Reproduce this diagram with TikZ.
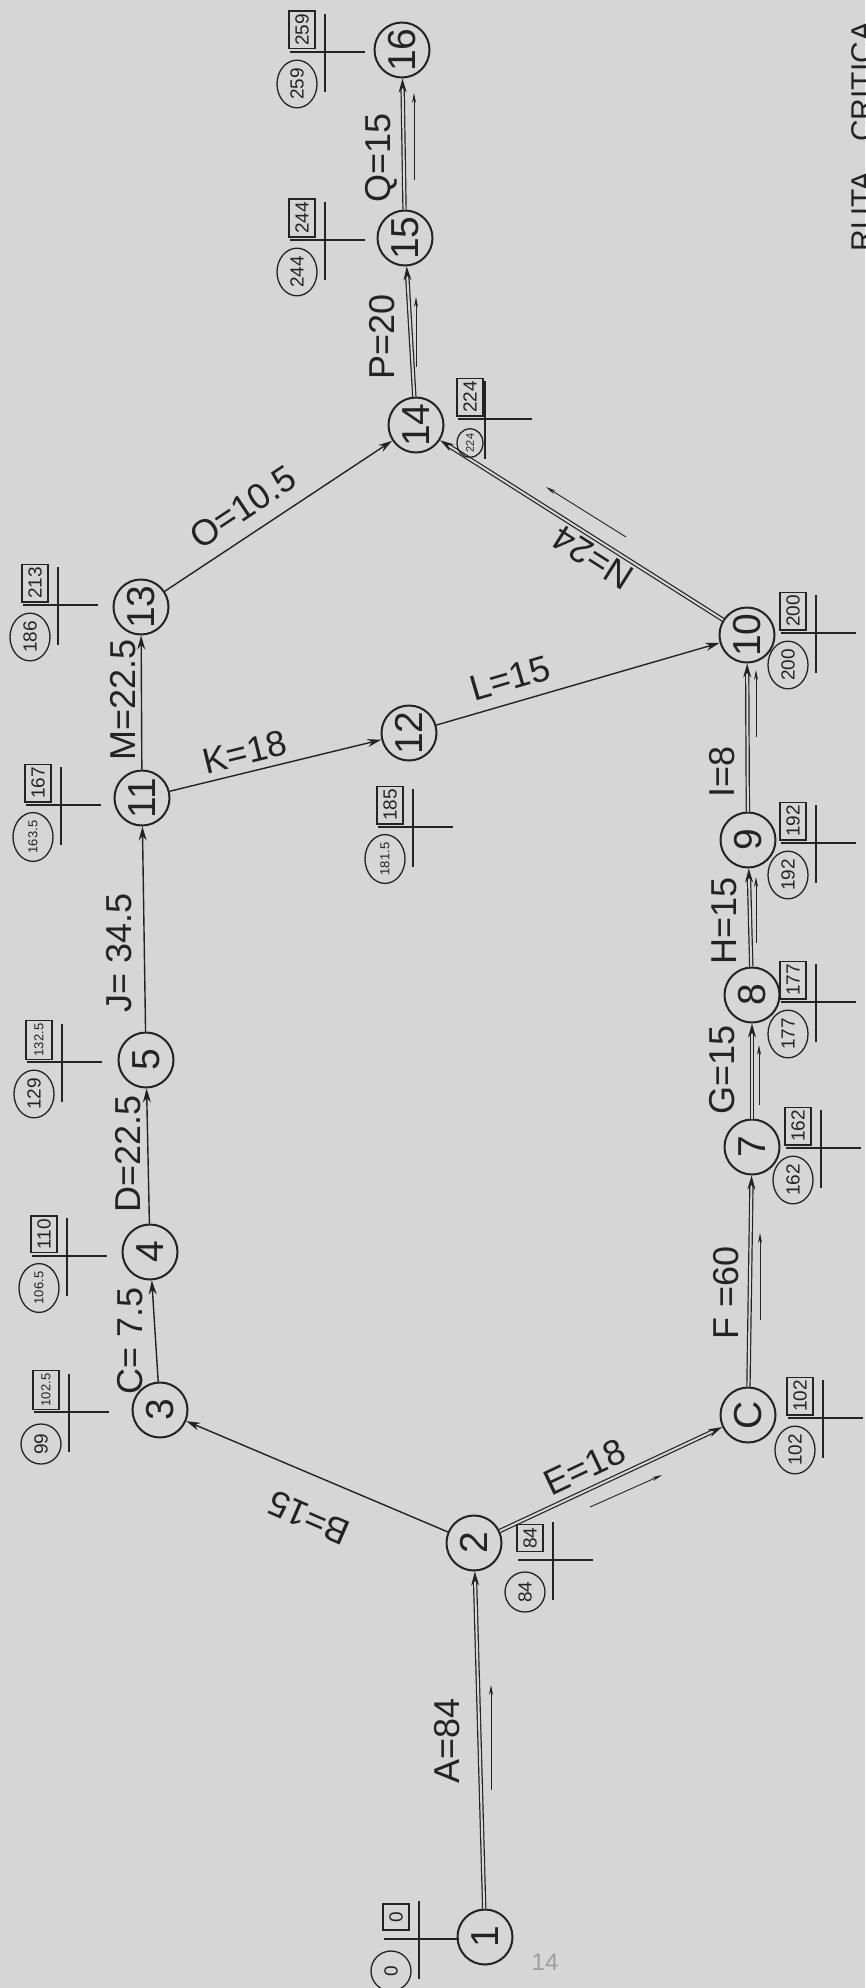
\documentclass[tikz,border=0pt]{standalone}
\usepackage{fontspec}
\setmainfont{Liberation Sans}
\usetikzlibrary{arrows.meta,shapes.geometric}
\definecolor{papel}{RGB}{214,214,214}
\definecolor{tinta}{RGB}{35,35,35}
\newcommand\chico{\fontsize{13}{13}\selectfont}

\begin{document}
\begin{tikzpicture}[x=1pt,y=-1pt,color=tinta,line width=1.4pt,
  evento/.style={circle,draw,line width=2pt,minimum size=55pt,inner sep=0pt,
    rotate=90,font=\fontsize{39}{39}\selectfont},
  act/.style={-{Stealth[length=14pt,width=8pt]}},
  crit/.style={act,double=papel,double distance=2pt,line width=1.2pt},
  guia/.style={line width=0.9pt,-{Stealth[length=10pt,width=4pt]}},
  etq/.style={inner sep=0pt,font=\fontsize{36}{36}\selectfont},
  tlim/.style={draw,line width=1.3pt,inner xsep=3pt,inner ysep=6pt,
    minimum width=26pt,minimum height=26pt,rotate=90,
    font=\fontsize{19}{19}\selectfont},
  tini/.style={ellipse,draw,line width=1.3pt,inner sep=1pt,minimum size=40pt,
    rotate=90,font=\fontsize{19}{19}\selectfont}]
  \fill[papel](0,0)rectangle(865,1988);
  \useasboundingbox(0,0)rectangle(865,1988);
  % eventos
  \node[evento](n1)at(485,1937){1};
  \node[evento](n2)at(474,1543){2};
  \node[evento](n3)at(160,1410){3};
  \node[evento](n4)at(150,1252){4};
  \node[evento](n5)at(146,1060){5};
  \node[evento](n6)at(748,1415){C};
  \node[evento](n7)at(752,1147){7};
  \node[evento](n8)at(752,995){8};
  \node[evento](n9)at(748,840){9};
  \node[evento](n10)at(747,635){10};
  \node[evento](n11)at(142,798){11};
  \node[evento](n12)at(409,733){12};
  \node[evento](n13)at(141,607){13};
  \node[evento](n14)at(416,425){14};
  \node[evento](n15)at(405,238){15};
  \node[evento](n16)at(402,50){16};
  % actividades
  \draw[crit](n1)--(n2);
  \draw[act](n2)--(n3);
  \draw[act](n3)--(n4);
  \draw[act](n4)--(n5);
  \draw[crit](n2)--(n6);
  \draw[crit](n6)--(n7);
  \draw[crit](n7)--(n8);
  \draw[crit](n8)--(n9);
  \draw[crit](n9)--(n10);
  \draw[act](n5)--(n11);
  \draw[act](n11)--(n12);
  \draw[act](n12)--(n10);
  \draw[act](n11)--(n13);
  \draw[crit](n10)--(n14);
  \draw[act](n13)--(n14);
  \draw[crit](n14)--(n15);
  \draw[crit](n15)--(n16);
  % duraciones
  \node[etq,rotate=90](lA)at(447,1741){A=84};
  \node[etq,rotate=156.6](lB)at(309,1518){B=15};
  \node[etq,rotate=90](lC)at(130,1341){C= 7.5};
  \node[etq,rotate=90](lD)at(128,1154){D=22.5};
  \node[etq,rotate=25.3](lE)at(585,1467){E=18};
  \node[etq,rotate=90](lF)at(726,1293){F =60};
  \node[etq,rotate=90](lG)at(722,1070){G=15};
  \node[etq,rotate=90](lH)at(724,921){H=15};
  \node[etq,rotate=90](lI)at(722,772){I=8};
  \node[etq,rotate=90](lJ)at(119,953){J= 34.5};
  \node[etq,rotate=13.7](lK)at(245,752){K=18};
  \node[etq,rotate=16.2](lL)at(510,678){L=15};
  \node[etq,rotate=90](lM)at(123,700){M=22.5};
  \node[etq,rotate=147.6](lN)at(593,558){N=24};
  \node[etq,rotate=33.5](lO)at(243,507){O=10.5};
  \node[etq,rotate=90](lP)at(382,337){P=20};
  \node[etq,rotate=90](lQ)at(381,158){Q=15};
  % sentido de la ruta critica
  \draw[guia](491,1790)--(491,1685);
  \draw[guia](590,1507)--(662,1475);
  \draw[guia](760,1320)--(760,1233);
  \draw[guia](759,1105)--(759,1045);
  \draw[guia](756,943)--(756,877);
  \draw[guia](756,737)--(756,670);
  \draw[guia](626,537)--(546,487);
  \draw[guia](416,367)--(416,297);
  \draw[guia](414,180)--(414,93);
  % tiempos
  \foreach \k/\px/\py/\ftemp/\ftard in {1/419/1939/0/0,2/553/1560/84/84,
      3/69/1412/99/{\chico 102.5},4/67/1256/{\chico 106.5}/110,
      5/62/1062/129/{\chico 132.5},6/823/1418/102/102,7/821/1148/162/162,
      8/816/1002/177/177,9/816/843/192/192,10/816/633/200/200,
      11/61/805/{\chico 163.5}/167,12/413/827/{\chico 181.5}/185,
      13/58/605/186/213,15/325/240/244/244,16/325/52/259/259}{
    \coordinate(c\k)at(\px,\py);
    \draw([shift={(-35,0)}]c\k)--([shift={(40,0)}]c\k);
    \draw[line width=1.8pt]([shift={(0,-38)}]c\k)--([shift={(0,40)}]c\k);
    \node[tlim](tl\k)at([shift={(-23,-22)}]c\k){\ftard};
    \node[tini](ti\k)at([shift={(-28,32)}]c\k){\ftemp};}
  \coordinate(c14)at(485,419);
  \draw([shift={(-27,0)}]c14)--([shift={(47,0)}]c14);
  \draw[line width=1.8pt]([shift={(0,-38)}]c14)--([shift={(0,40)}]c14);
  \node[tlim](tl14)at(470,397){224};
  \node[tini,minimum size=26pt](ti14)at(470,443){\fontsize{11}{11}\selectfont 224};
  \node[text=gray!75,font=\fontsize{24}{24}\selectfont](nota)at(545,1962){14};
  \node[rotate=90,anchor=north west,inner sep=0pt,
    font=\fontsize{30}{30}\selectfont](titulo)at(851,252){RUTA\quad CRITICA};
\end{tikzpicture}
\end{document}
